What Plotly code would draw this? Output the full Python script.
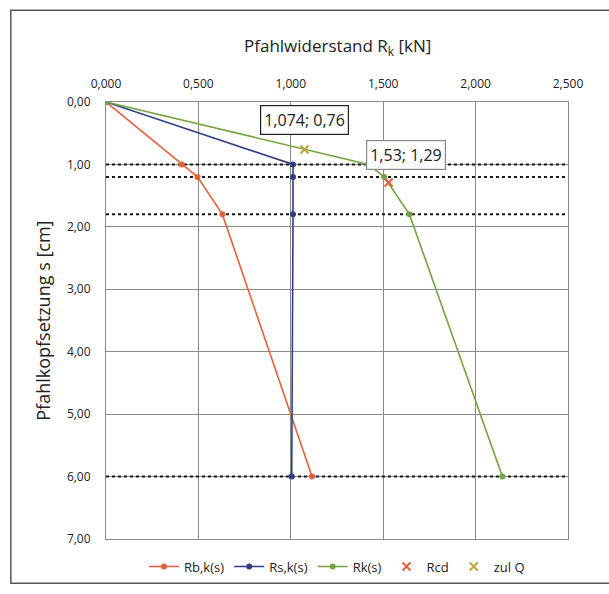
import plotly.graph_objects as go

# Settlement levels s [cm] and resistances [kN]
s_curve = [0.0, 1.0, 1.2, 1.8, 6.0]
rb_k = [0.0, 0.41, 0.495, 0.63, 1.115]
rs_k = [0.0, 1.012, 1.012, 1.012, 1.005]
rk = [0.0, 1.42, 1.505, 1.642, 2.145]

rcd_x, rcd_s = [1.53], [1.29]
zulq_x, zulq_s = [1.074], [0.76]

# Horizontal reference levels
s_levels = [1.0, 1.2, 1.8, 6.0]

x_ticks = [0, 0.5, 1.0, 1.5, 2.0, 2.5]
y_ticks = [0, 1, 2, 3, 4, 5, 6, 7]

ORANGE = "#E4603A"
BLUE = "#2E3F86"
GREEN = "#73A43F"
OLIVE = "#B08A3A"
FONT = "Open Sans"

fig = go.Figure()

for lvl in s_levels:
    fig.add_trace(go.Scatter(
        x=[x_ticks[0], x_ticks[-1]], y=[lvl, lvl], mode="lines",
        line=dict(color="#1a1a1a", width=2, dash="dot"),
        showlegend=False, hoverinfo="skip"))

fig.add_trace(go.Scatter(x=rb_k, y=s_curve, mode="lines+markers", name="Rb,k(s)",
                         line=dict(color=ORANGE, width=1.6),
                         marker=dict(color=ORANGE, size=6)))
fig.add_trace(go.Scatter(x=rs_k, y=s_curve, mode="lines+markers", name="Rs,k(s)",
                         line=dict(color=BLUE, width=1.6),
                         marker=dict(color=BLUE, size=6)))
fig.add_trace(go.Scatter(x=rk, y=s_curve, mode="lines+markers", name="Rk(s)",
                         line=dict(color=GREEN, width=1.6),
                         marker=dict(color=GREEN, size=6)))
fig.add_trace(go.Scatter(x=rcd_x, y=rcd_s, mode="markers", name="Rcd",
                         marker=dict(color=ORANGE, symbol="x-thin", size=8,
                                     line=dict(color=ORANGE, width=2))))
fig.add_trace(go.Scatter(x=zulq_x, y=zulq_s, mode="markers", name="zul Q",
                         marker=dict(color=OLIVE, symbol="x-thin", size=8,
                                     line=dict(color="#C2A53A", width=2))))

# Value labels
fig.add_annotation(x=zulq_x[0], y=zulq_s[0], xref="x", yref="y",
                   text=f"{zulq_x[0]:.3f}; {zulq_s[0]:.2f}".replace(".", ","),
                   showarrow=True, arrowcolor="rgba(0,0,0,0)", ax=0, ay=-29,
                   bgcolor="white", bordercolor="#222", borderwidth=1.2, borderpad=3,
                   font=dict(family=FONT, size=16, color="#222"))
fig.add_annotation(x=rcd_x[0], y=rcd_s[0], xref="x", yref="y",
                   text=f"{rcd_x[0]:.2f}; {rcd_s[0]:.2f}".replace(".", ","),
                   showarrow=True, arrowcolor="rgba(0,0,0,0)", ax=17, ay=-28,
                   bgcolor="white", bordercolor="#888", borderwidth=1.2, borderpad=3,
                   font=dict(family=FONT, size=16, color="#222"))

# Axis titles
fig.add_annotation(text="Pfahlwiderstand R<sub>k</sub> [kN]", xref="paper", yref="paper",
                   x=0.5, y=1.128, showarrow=False, xanchor="center", yanchor="middle",
                   font=dict(family=FONT, size=17, color="#222"))
fig.add_annotation(text="Pfahlkopfsetzung s [cm]", xref="paper", yref="paper",
                   x=-0.138, y=0.5, showarrow=False, textangle=-90,
                   xanchor="center", yanchor="middle",
                   font=dict(family=FONT, size=18, color="#222"))

# Outer chart frame (right side runs past the page edge)
fig.add_shape(type="rect", xref="paper", yref="paper",
              x0=-0.206, x1=1.2, y0=-0.101, y1=1.21,
              line=dict(color="#555", width=1.5))

fig.update_layout(
    width=609, height=594,
    margin=dict(l=106, r=41, t=102, b=47),
    paper_bgcolor="white", plot_bgcolor="white",
    separators=", ",
    font=dict(family=FONT, size=12, color="#222"),
    legend=dict(orientation="h", x=0.5, xanchor="center", y=-0.063, yanchor="middle",
                font=dict(family=FONT, size=13, color="#222"),
                itemwidth=30, tracegroupgap=0),
    xaxis=dict(side="top", range=[0, 2.5], tickvals=x_ticks, tickformat=".3f",
               showgrid=True, gridcolor="#8a8a8a", gridwidth=1,
               showline=True, linecolor="#8a8a8a", mirror=True, zeroline=False,
               ticks="", ticklabelstandoff=8, tickfont=dict(size=12)),
    yaxis=dict(range=[7, 0], tickvals=y_ticks, tickformat=".2f",
               showgrid=True, gridcolor="#8a8a8a", gridwidth=1,
               showline=True, linecolor="#8a8a8a", mirror=True, zeroline=False,
               ticks="", ticklabelstandoff=12, tickfont=dict(size=12)),
)

fig.write_html("out.html")
